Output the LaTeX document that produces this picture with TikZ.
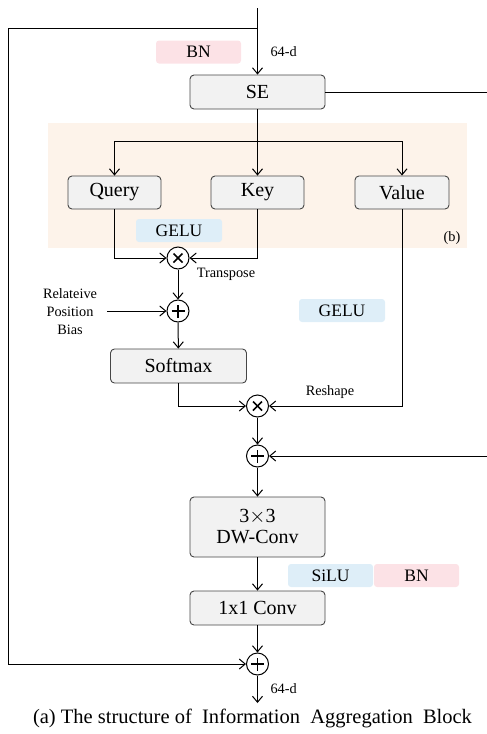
\documentclass[tikz,border=0pt]{standalone}
\usepackage{fontspec}
\setmainfont{Liberation Serif}
\usetikzlibrary{arrows.meta}
\definecolor{boxfill}{RGB}{242,242,242}
\definecolor{boxdraw}{RGB}{70,70,70}
\definecolor{tagpink}{RGB}{252,226,230}
\definecolor{tagblue}{RGB}{222,238,248}
\definecolor{bgpeach}{RGB}{253,243,234}
\tikzset{
  blk/.style={draw=boxdraw, fill=boxfill, rounded corners=4pt, line width=0.9pt,
    font=\fontsize{20}{22}\selectfont, inner sep=0pt, align=center},
  tag/.style={rounded corners=3pt, inner sep=0pt, minimum width=85pt, minimum height=23pt,
    font=\fontsize{17.5}{20}\selectfont},
  small/.style={font=\fontsize{14.3}{18}\selectfont, inner sep=0pt},
  arr/.style={-{Straight Barb[length=6pt,width=10pt]}},
  opcirc/.style={draw, circle, line width=1pt, minimum size=22pt, inner sep=0pt},
  opplus/.style={opcirc, path picture={
      \draw[line width=1.8pt] ([xshift=-6.5pt]path picture bounding box.center) -- ([xshift=6.5pt]path picture bounding box.center);
      \draw[line width=1.8pt] ([yshift=-6.5pt]path picture bounding box.center) -- ([yshift=6.5pt]path picture bounding box.center);}},
  optimes/.style={opcirc, path picture={
      \draw[line width=1.5pt] ([shift={(-4.5pt,-4.5pt)}]path picture bounding box.center) -- ([shift={(4.5pt,4.5pt)}]path picture bounding box.center);
      \draw[line width=1.5pt] ([shift={(-4.5pt,4.5pt)}]path picture bounding box.center) -- ([shift={(4.5pt,-4.5pt)}]path picture bounding box.center);}},
}
\begin{document}
\begin{tikzpicture}[x=1pt, y=-1pt, line width=1pt]
\useasboundingbox (0,0) rectangle (487,734);
\fill[bgpeach] (48,123) rectangle (467,248);

% tags
\node[tag, fill=tagpink] (bn1) at (198.5,52) {BN};
\node[tag, fill=tagblue, minimum width=86pt] (gelu1) at (179,230.5) {GELU};
\node[tag, fill=tagblue, minimum width=86pt] (gelu2) at (342,310.5) {GELU};
\node[tag, fill=tagblue] (silu) at (330.5,575.5) {SiLU};
\node[tag, fill=tagpink] (bn2) at (416.5,575.5) {BN};

% blocks
\node[blk, minimum width=135pt, minimum height=34pt] (se) at (257.5,92) {SE};
\node[blk, minimum width=93pt, minimum height=33pt] (q) at (114.5,192.5) {Query};
\node[blk, minimum width=93pt, minimum height=33pt] (k) at (257.5,192.5) {Key};
\node[blk, minimum width=94pt, minimum height=33pt] (v) at (402,192.5) {Value};
\node[blk, minimum width=136pt, minimum height=34pt] (sm) at (178.5,366) {Softmax};
\node[blk, minimum width=135pt, minimum height=60pt] (dw) at (257.5,527) {3$\times$3\\[-1pt]DW-Conv};
\node[blk, minimum width=135pt, minimum height=34pt] (c1) at (257.5,608) {1x1 Conv};

% operators
\node[optimes] (x1) at (178,258) {};
\node[opplus] (p1) at (178,311) {};
\node[optimes] (x2) at (257.5,406) {};
\node[opplus] (p2) at (257.5,456) {};
\node[opplus] (p3) at (257.5,664) {};

% labels
\node[small, anchor=west] (d1) at (270,52) {64-d};
\node[small] (b) at (452,238) {(b)};
\node[small] (tr) at (226,274) {Transpose};
\node[small] (rs) at (330,392) {Reshape};
\node[small, align=center] (rel) at (70,312) {Relateive\\Position\\Bias};
\node[small, anchor=west] (d2) at (270,689) {64-d};
\node[font=\fontsize{20.5}{24}\selectfont, inner sep=0pt] (cap) at (252.5,718) {(a) The structure of~ Information~ Aggregation~ Block};

% coordinates
\coordinate (top) at (257.5,8);
\coordinate (tj) at (257.5,28);
\coordinate (lc) at (8,28);
\coordinate (re1) at (487,92);
\coordinate (re2) at (487,456);
\coordinate (br) at (257.5,141);
\coordinate (relin) at (107,311);
\coordinate (out) at (257.5,703);

% connectors
\draw[arr] (top) -- (se);
\draw[arr] (tj) -- (lc) |- (p3);
\draw (se.east) -- (re1);
\draw[arr] (re2) -- (p2);
\draw (se) -- (br);
\draw[arr] (br) -| (q);
\draw[arr] (br) -- (k);
\draw[arr] (br) -| (v);
\draw[arr] (q) |- (x1);
\draw[arr] (k) |- (x1);
\draw[arr] (x1) -- (p1);
\draw[arr] (relin) -- (p1);
\draw[arr] (p1) -- (sm);
\draw[arr] (sm) |- (x2);
\draw[arr] (v) |- (x2);
\draw[arr] (x2) -- (p2);
\draw[arr] (p2) -- (dw);
\draw[arr] (dw) -- (c1);
\draw[arr] (c1) -- (p3);
\draw[arr] (p3) -- (out);
\end{tikzpicture}
\end{document}
